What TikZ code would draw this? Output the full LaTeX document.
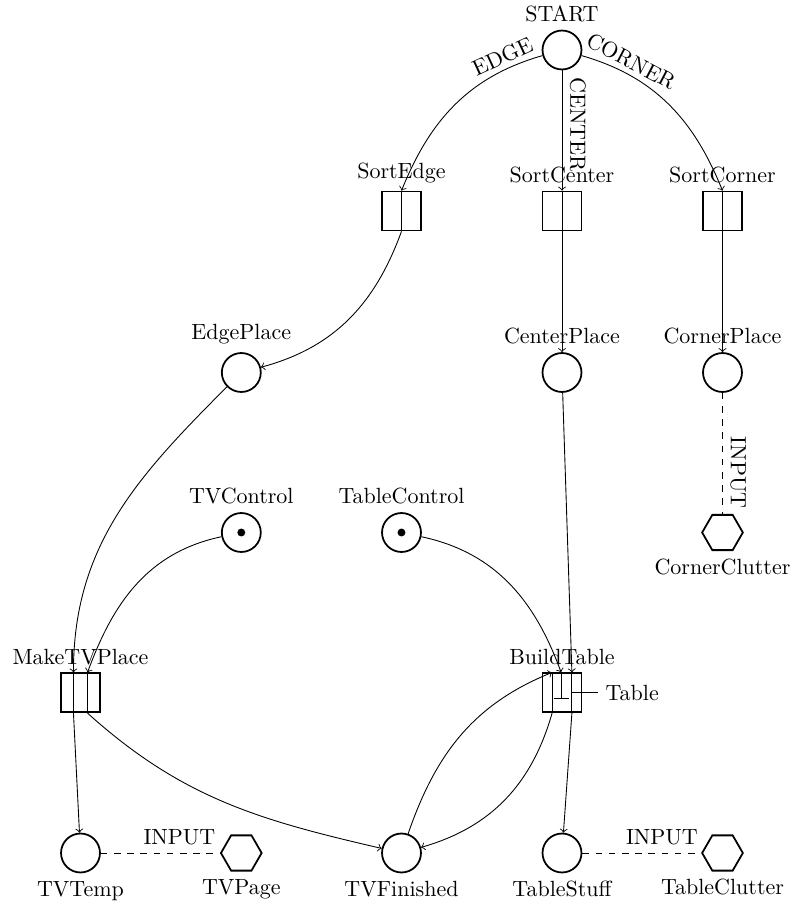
\documentclass[tikz,border=0pt]{standalone}
\usetikzlibrary{shapes.geometric}
\begin{document}
\begin{tikzpicture}[x=0.4545pt, y=0.4545pt,
  place/.style={circle, draw, thick, minimum size=17.7pt, inner sep=0pt},
  transition/.style={rectangle, draw, thick, minimum size=17.7pt, inner sep=0pt},
  clutter/.style={regular polygon, regular polygon sides=6, draw, thick, minimum size=18.5pt, inner sep=0pt},
  token/.style={circle, fill, inner sep=0pt, minimum size=3.6pt},
  arc/.style={->},
  link/.style={dashed},
  arclabel/.style={inner sep=2pt}]
\useasboundingbox (0,0) rectangle (795,909);

% places, transitions and clutter sources on a regular grid
\node[place, label={above:START}] (START) at (562,859) {};
\node[transition, label={above:SortEdge}] (SortEdge) at (401.5,698) {};
\node[transition, label={above:SortCenter}] (SortCenter) at (562,698) {};
\node[transition, label={above:SortCorner}] (SortCorner) at (722.5,698) {};
\node[place, label={above:EdgePlace}] (EdgePlace) at (241.3,536.5) {};
\node[place, label={above:CenterPlace}] (CenterPlace) at (562,536.5) {};
\node[place, label={above:CornerPlace}] (CornerPlace) at (722.5,536.5) {};
\node[place, label={above:TVControl}] (TVControl) at (241.3,376.5) {};
\node[token] (TVControlTok) at (TVControl) {};
\node[place, label={above:TableControl}] (TableControl) at (401.5,376.5) {};
\node[token] (TableControlTok) at (TableControl) {};
\node[clutter, label={below:CornerClutter}] (CornerClutter) at (722.5,376.5) {};
\node[transition, label={above:MakeTVPlace}] (MakeTVPlace) at (80.5,216.2) {};
\node[transition, label={above:BuildTable}] (BuildTable) at (562,216.2) {};
\node[place, label={below:TVTemp}] (TVTemp) at (80.5,56) {};
\node[clutter, label={below:TVPage}] (TVPage) at (241.3,56) {};
\node[place, label={below:TVFinished}] (TVFinished) at (401.5,56) {};
\node[place, label={below:TableStuff}] (TableStuff) at (562,56) {};
\node[clutter, label={below:TableClutter}] (TableClutter) at (722.5,56) {};

% ports of the transitions with several arcs
\coordinate (mk-i1) at ([xshift=-3.2pt]MakeTVPlace.north);
\coordinate (mk-i2) at ([xshift=3.2pt]MakeTVPlace.north);
\coordinate (mk-o1) at ([xshift=-3.2pt]MakeTVPlace.south);
\coordinate (mk-o2) at ([xshift=3.2pt]MakeTVPlace.south);
\coordinate (bt-i1) at ([xshift=-4.5pt]BuildTable.north);
\coordinate (bt-i2) at ([xshift=-0.4pt]BuildTable.north);
\coordinate (bt-i3) at ([xshift=4.5pt]BuildTable.north);
\coordinate (bt-o1) at ([xshift=-4.5pt]BuildTable.south);
\coordinate (bt-o3) at ([xshift=4.5pt]BuildTable.south);
\coordinate (bt-bar) at ([xshift=-0.4pt, yshift=-2.7pt]BuildTable.center);
\coordinate (bt-barl) at ([xshift=-3.8pt, yshift=-2.7pt]BuildTable.center);
\coordinate (bt-barr) at ([xshift=3.0pt, yshift=-2.7pt]BuildTable.center);
\coordinate (bt-tab) at ([xshift=4.5pt]BuildTable.center);
\coordinate (bt-tabend) at ([xshift=16.3pt]BuildTable.center);

% arcs from START
\draw[arc] (START) to[out=196, in=68] node[arclabel, pos=0.17, sloped, above] (lblEdge) {EDGE} (SortEdge.north);
\draw[arc] (START) -- node[pos=0.45, rotate=-90, anchor=south] (lblCenter) {CENTER} (SortCenter.north);
\draw[arc] (START) to[out=-16, in=112] node[arclabel, pos=0.22, sloped, above] (lblCorner) {CORNER} (SortCorner.north);

% lines through the transitions
\draw (SortEdge.north) -- (SortEdge.south);
\draw (SortCenter.north) -- (SortCenter.south);
\draw (SortCorner.north) -- (SortCorner.south);
\draw (mk-i1) -- (mk-o1);
\draw (mk-i2) -- (mk-o2);
\draw (bt-i1) -- (bt-o1);
\draw (bt-i3) -- (bt-o3);
\draw (bt-i2) -- (bt-bar);
\draw (bt-barl) -- (bt-barr);

% sorted pieces
\draw[arc] (SortEdge.south) to[out=-110, in=15] (EdgePlace);
\draw[arc] (SortCenter.south) -- (CenterPlace);
\draw[arc] (SortCorner.south) -- (CornerPlace);
\draw[link] (CornerPlace) -- node[pos=0.66, rotate=-90, anchor=south] (lblInC) {INPUT} (CornerClutter);

% building the TV place
\draw[arc] (EdgePlace) to[out=-135, in=90] (mk-i1);
\draw[arc] (TVControl) to[out=192, in=70] (mk-i2);
\draw[arc] (mk-o1) -- (TVTemp);
\draw[arc] (mk-o2) to[out=-42, in=167] (TVFinished);
\draw[link] (TVTemp) -- node[pos=0.66, above] (lblInTV) {INPUT} (TVPage);

% building the table
\draw[arc] (TableControl) to[out=-12, in=110] (bt-i2);
\draw[arc] (CenterPlace) -- (bt-i3);
\draw[arc] (TVFinished) to[out=71, in=202] (bt-i1);
\draw[arc] (bt-o1) to[out=-106, in=16] (TVFinished);
\draw[arc] (bt-o3) -- (TableStuff);
\draw (bt-tab) -- (bt-tabend) node[right] (lblTable) {Table};
\draw[link] (TableStuff) -- node[pos=0.67, above] (lblInT) {INPUT} (TableClutter);
\end{tikzpicture}
\end{document}
